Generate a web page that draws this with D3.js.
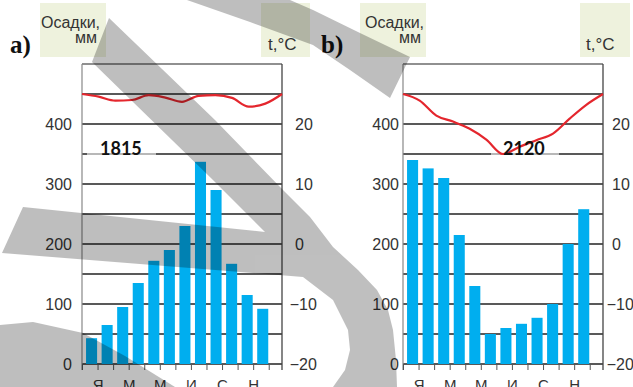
<!DOCTYPE html>
<html><head><meta charset="utf-8">
<script src="https://cdn.jsdelivr.net/npm/d3@7"></script>
<style>body{margin:0;background:#fff}svg{display:block}</style>
</head><body><svg id="c" width="633" height="387"></svg>
<script>
// ---- data ----
const months = ["Я","Ф","М","А","М","И","И","А","С","О","Н","Д"];
const monthTickLabels = ["Я","М","М","И","С","Н"];
const precipA = [43,65,95,135,172,190,230,337,290,167,115,92];
const precipB = [340,326,310,215,130,50,60,67,77,100,200,258];
// temperature, Jan..Dec and back to Jan (drawn across the plot width)
const tempA = [25,24.55,23.9,24.0,24.8,24.4,23.7,24.7,24.8,24.35,22.9,23.4,25];
const tempB = [25,23.9,21.4,20.4,19.2,17.4,15.0,16.2,17.3,18.4,20.9,23.2,25];
const precipTicks = [0,100,200,300,400];
const tempTicks = [-20,-10,0,10,20];
const totals = ["1815","2120"];
const panelLabels = ["a)","b)"];
const precipTitle = ["Осадки,","мм"];
const tempTitle = "t,°C";

const svg = d3.select("#c");
svg.append("rect").attr("width",633).attr("height",387).attr("fill","#fff");

const yP = d3.scaleLinear().domain([0,500]).range([364,64]);
const yT = d3.scaleLinear().domain([-20,30]).range([364,64]);
const SANS = "'Liberation Sans', Arial, sans-serif";

function drawChart(cfg){
  const g = svg.append("g");
  const x0 = cfg.x0, x1 = cfg.x1, step = 15.56;
  const xBand = d3.scaleBand().domain(d3.range(12)).range([x0, x0+12*step]).padding(0);
  const xTick = d3.scaleLinear().domain([0,12]).range([x0, x0+12*step]);
  const xLine = d3.scaleLinear().domain([0,12]).range([x0, x1]);

  // header boxes
  g.append("rect").attr("x",cfg.box1[0]).attr("y",3).attr("width",cfg.box1[1]-cfg.box1[0]).attr("height",54).attr("fill","#eef2dd");
  g.append("rect").attr("x",cfg.box2[0]).attr("y",3).attr("width",cfg.box2[1]-cfg.box2[0]).attr("height",54).attr("fill","#eef2dd");
  g.append("text").attr("x",cfg.t1x).attr("y",28).attr("font-family",SANS).attr("font-size",16).attr("fill","#333").text(precipTitle[0]);
  g.append("text").attr("x",cfg.t2x).attr("y",43).attr("text-anchor","end").attr("font-family",SANS).attr("font-size",16).attr("fill","#333").text(precipTitle[1]);
  g.append("text").attr("x",cfg.t3x).attr("y",50).attr("font-family",SANS).attr("font-size",17).attr("fill","#333").text(tempTitle);
  g.append("text").attr("x",cfg.lx).attr("y",53).attr("font-family","'Liberation Serif', 'Times New Roman', serif").attr("font-weight","bold").attr("font-size",25).attr("fill","#111").text(cfg.label);

  // gridlines
  g.selectAll(".grid").data(d3.range(0,501,50)).join("line")
    .attr("x1",x0).attr("x2",x1).attr("y1",d=>yP(d)).attr("y2",d=>yP(d))
    .attr("stroke","#222").attr("stroke-width",d=>d===500?1.1:1.5);

  // bars
  const bw = xBand.bandwidth();
  g.selectAll(".bar").data(cfg.precip).join("rect")
    .attr("x",(d,i)=>xBand(i)+0.26*bw).attr("width",0.71*bw)
    .attr("y",d=>yP(d)).attr("height",d=>yP(0)-yP(d))
    .attr("fill","#00aeef");

  // borders
  g.append("line").attr("x1",x0).attr("x2",x0).attr("y1",64).attr("y2",370).attr("stroke","#888").attr("stroke-width",1.2);
  g.append("line").attr("x1",x1).attr("x2",x1).attr("y1",64).attr("y2",370).attr("stroke","#444").attr("stroke-width",1.3);

  // bottom axis
  const ax = g.append("g").attr("transform",`translate(0,${yP(0)})`)
    .call(d3.axisBottom(xTick).tickValues(d3.range(13)).tickSize(6).tickPadding(9)
      .tickFormat(i => i%2===1 ? monthTickLabels[(i-1)/2] : ""));
  ax.select(".domain").remove();
  ax.selectAll("line").attr("stroke","#555");
  ax.selectAll("text").attr("font-family",SANS).attr("font-size",15).attr("fill","#333");

  // left axis labels
  const al = g.append("g").attr("transform",`translate(${cfg.leftLabelX},0)`)
    .call(d3.axisLeft(yP).tickValues(precipTicks).tickSize(0).tickPadding(0));
  al.select(".domain").remove();
  al.selectAll("text").attr("font-family",SANS).attr("font-size",16).attr("fill","#333");

  // right axis labels
  const ar = g.append("g").attr("transform",`translate(${cfg.rightLabelX},0)`)
    .call(d3.axisRight(yT).tickValues(tempTicks).tickSize(0).tickPadding(0));
  ar.select(".domain").remove();
  ar.selectAll("text").attr("font-family",SANS).attr("font-size",16).attr("fill","#333")
    .attr("dx",d=>d<0?"-0.333em":0);

  // total label underline
  g.append("line").attr("x1",cfg.segX[0]).attr("x2",cfg.segX[1]).attr("y1",yP(350)).attr("y2",yP(350))
    .attr("stroke","#b8b8b8").attr("stroke-width",2);

  // temperature line
  g.append("path").datum(cfg.temp)
    .attr("d",d3.line().x((d,i)=>xLine(i)).y(d=>yT(d)).curve(d3.curveMonotoneX))
    .attr("fill","none").attr("stroke","#e4262d").attr("stroke-width",2.2);

  // total
  g.append("text").attr("x",cfg.totalX).attr("y",yP(350)+1).attr("font-family","Lato, 'Open Sans', sans-serif")
    .attr("font-weight","bold").attr("font-size",18).attr("fill","#111").text(cfg.total);
}

drawChart({x0:82,x1:282,precip:precipA,temp:tempA,total:totals[0],totalX:100,segX:[87,156],
  leftLabelX:72,rightLabelX:295,box1:[40,106],box2:[261,310],t1x:41,t2x:97,t3x:268,lx:10,label:panelLabels[0]});
drawChart({x0:403,x1:603,precip:precipB,temp:tempB,total:totals[1],totalX:503,segX:[491,559],
  leftLabelX:399,rightLabelX:612,box1:[360,426],box2:[580,630],t1x:365,t2x:421,t3x:586,lx:321,label:panelLabels[1]});

// ---- watermark (grey brush strokes over the picture) ----
const wm = svg.append("g").attr("opacity",0.25).attr("fill","#000");
const shapes = [
  [[187,0],[290,0],[313,10],[360,33],[410,57],[390,98],[350,70],[313,45],[250,22]],
  [[109,18],[215,120],[283,190],[310,217],[333,247],[358,270],[377,290],[388,310],[393,330],[396,360],[397,387],
   [333,387],[345,370],[350,350],[348,330],[333,300],[303,277],[2,253],[23,207],[265,232],[213,180],[92,62]],
  [[0,325],[33,322],[83,333],[125,356],[175,387],[0,387]]
];
wm.selectAll("path").data(shapes).join("path").attr("d",d=>"M"+d.map(p=>p.join(",")).join("L")+"Z");
</script></body></html>
